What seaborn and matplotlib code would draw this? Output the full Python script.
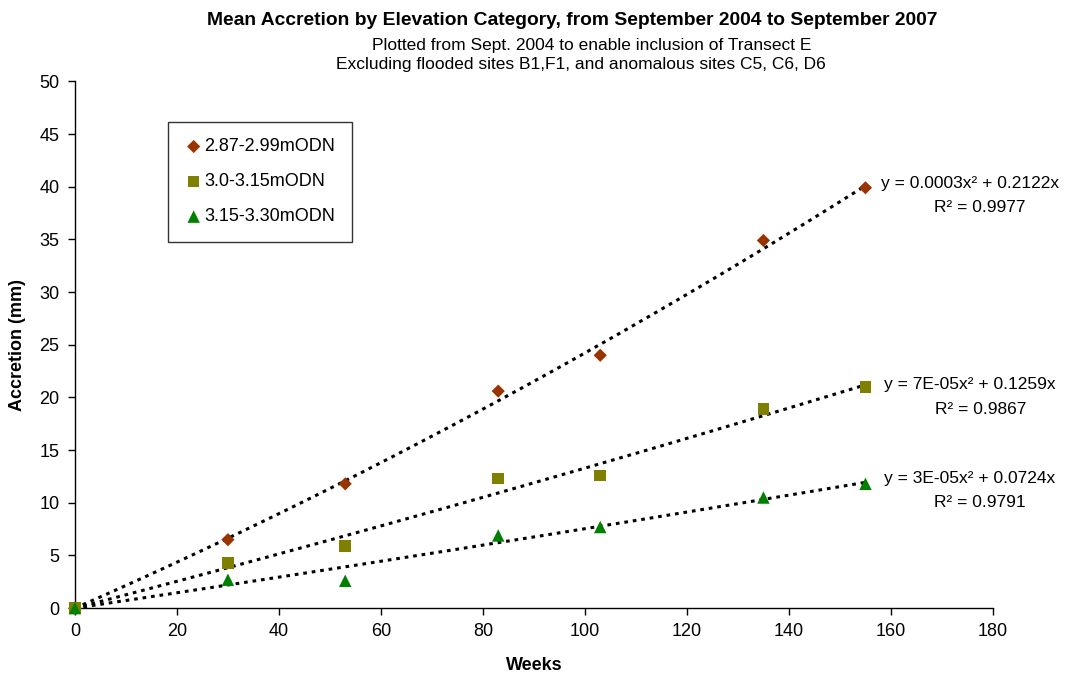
import numpy as np
import pandas as pd
import matplotlib
matplotlib.use('Agg')
import matplotlib.pyplot as plt
import seaborn as sns

# Data
weeks = [0, 30, 53, 83, 103, 135, 155]
acc_low = [0, 6.5, 11.8, 20.6, 24.0, 34.9, 39.9]
acc_mid = [0, 4.3, 5.9, 12.3, 12.6, 18.9, 21.0]
acc_high = [0, 2.7, 2.6, 6.9, 7.7, 10.5, 11.8]
categories = ['2.87-2.99mODN', '3.0-3.15mODN', '3.15-3.30mODN']

# trendline coefficients (y = a*x^2 + b*x) and labels from the chart
coef_a = [0.0003, 7e-05, 3e-05]
coef_b = [0.2122, 0.1259, 0.0724]
eq_labels = ['y = 0.0003x\u00b2 + 0.2122x', 'y = 7E-05x\u00b2 + 0.1259x', 'y = 3E-05x\u00b2 + 0.0724x']
r2_labels = ['R\u00b2 = 0.9977', 'R\u00b2 = 0.9867', 'R\u00b2 = 0.9791']

df = pd.DataFrame({
    'Weeks': weeks * 3,
    'Accretion': acc_low + acc_mid + acc_high,
    'Category': [categories[0]] * 7 + [categories[1]] * 7 + [categories[2]] * 7,
})

sns.set_theme(style='white')
plt.rcParams['font.family'] = ['Liberation Sans', 'DejaVu Sans']
plt.rcParams['text.color'] = 'black'
plt.rcParams['axes.labelcolor'] = 'black'
plt.rcParams['xtick.color'] = 'black'
plt.rcParams['ytick.color'] = 'black'

colors = ['#993300', '#808000', '#008000']
markers = ['D', 's', '^']
sizes = [45, 70, 80]

fig = plt.figure(figsize=(10.7, 6.78), dpi=100)
ax = fig.add_axes([0.070, 0.103, 0.858, 0.777])

# trendlines first, behind markers
x_fit = np.linspace(0, max(weeks), 200)
for a, b in zip(coef_a, coef_b):
    ax.plot(x_fit, a * x_fit ** 2 + b * x_fit, color='black', lw=2.2,
            linestyle=(0, (1.2, 1.6)), zorder=2)

for cat, c, m, s in zip(categories, colors, markers, sizes):
    sub = df[df['Category'] == cat]
    sns.scatterplot(data=sub, x='Weeks', y='Accretion', color=c, marker=m, s=s,
                    edgecolor='none', label=cat, ax=ax, zorder=3, clip_on=False)

# equation labels on the right
label_y = [38.6, 19.5, 10.6]
for ey, eq, r2 in zip(label_y, eq_labels, r2_labels):
    ax.text(175.5, ey + 1.7, eq, ha='center', va='center', fontsize=12.5, clip_on=False)
    ax.text(177.5, ey - 0.6, r2, ha='center', va='center', fontsize=12.5, clip_on=False)

ax.set_xlim(0, 180)
ax.set_ylim(0, 50)
ax.set_xticks(range(0, 181, 20))
ax.set_yticks(range(0, 51, 5))
ax.tick_params(axis='both', direction='out', length=5, width=1, labelsize=13,
               bottom=True, left=True, color='black', pad=6)
for side in ['top', 'right']:
    ax.spines[side].set_visible(False)
for side in ['left', 'bottom']:
    ax.spines[side].set_color('black')
    ax.spines[side].set_linewidth(1)

ax.set_xlabel('Weeks', fontsize=13, fontweight='bold', labelpad=12)
ax.set_ylabel('Accretion (mm)', fontsize=13, fontweight='bold', labelpad=10)

fig.text(0.535, 0.970, 'Mean Accretion by Elevation Category, from September 2004 to September 2007',
         ha='center', va='center', fontsize=13.9, fontweight='bold')
fig.text(0.553, 0.933, 'Plotted from Sept. 2004 to enable inclusion of Transect E',
         ha='center', va='center', fontsize=12.5)
fig.text(0.543, 0.905, 'Excluding flooded sites B1,F1, and anomalous sites C5, C6, D6',
         ha='center', va='center', fontsize=12.5)

leg = ax.legend(loc='upper left', bbox_to_anchor=(0.092, 0.94), fontsize=13,
                frameon=True, fancybox=False, edgecolor='black', handletextpad=0.1,
                labelspacing=1.0, borderpad=0.9, handlelength=1.0, markerscale=1.0)
leg.get_frame().set_linewidth(1)

fig.savefig('out.png', dpi=100, facecolor='white')
